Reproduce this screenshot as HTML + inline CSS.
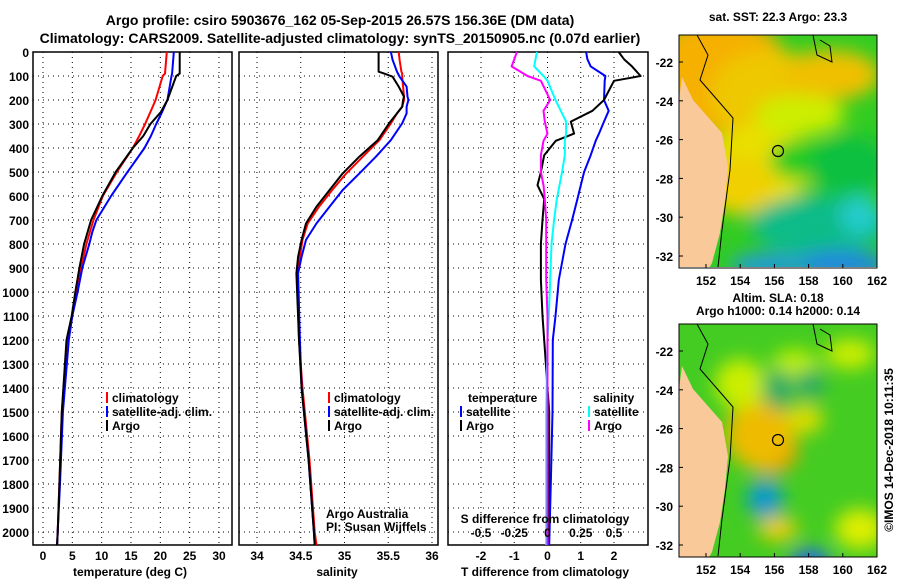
<!DOCTYPE html>
<html><head><meta charset="utf-8"><style>
body{margin:0;background:#fff;}
svg text{font-family:"Liberation Sans",sans-serif;font-weight:bold;}
</style></head><body>
<svg id="c" width="900" height="580" viewBox="0 0 900 580" xmlns="http://www.w3.org/2000/svg">
<defs>
<filter id="bl" x="-50%" y="-50%" width="200%" height="200%"><feGaussianBlur stdDeviation="9"/></filter>
<clipPath id="m1"><rect x="679" y="35" width="198" height="232"/></clipPath>
<clipPath id="m2"><rect x="679" y="324" width="198" height="233"/></clipPath>
</defs>
<text x="340" y="25" text-anchor="middle" font-size="14">Argo profile: csiro 5903676_162 05-Sep-2015 26.57S 156.36E (DM data)</text>
<text x="340" y="43" text-anchor="middle" font-size="14">Climatology: CARS2009. Satellite-adjusted climatology: synTS_20150905.nc (0.07d earlier)</text>
<g id="plots"></g>
<g id="maps"></g>
</svg>
<script>
// ---- data ----
const tDepth=[0,90,100,200,250,300,350,400,500,600,700,750,800,900,1000,1100,1200,1500,1800,2000,2054];
const tArgo=[23.3,23.3,22.7,21.2,20.1,18.3,17.1,15.3,12.4,10.1,8.2,7.6,7.0,6.2,5.5,4.9,4.0,3.2,2.8,2.5,2.4];
const tClim=[21.1,20.8,20.4,19.2,18.3,17.4,16.4,15.3,12.6,10.2,8.6,8.0,7.4,6.5,5.7,5.0,4.2,3.2,2.8,2.5,2.4];
const tSat=[22.3,22.0,21.9,21.2,20.3,19.3,18.4,17.3,14.4,11.6,9.1,8.4,7.9,6.7,5.9,5.0,4.4,3.4,2.9,2.5,2.4];
const sDepth=[0,33,82,89,103,144,186,200,228,256,297,367,436,506,575,644,714,783,853,922,1200,1400,1700,2000,2054];
const sArgo=[35.39,35.39,35.39,35.45,35.55,35.62,35.68,35.67,35.66,35.60,35.51,35.38,35.17,34.98,34.83,34.68,34.56,34.51,34.47,34.45,34.48,34.51,34.59,34.65,34.66];
const sClim=[35.62,35.63,35.65,35.66,35.66,35.67,35.68,35.68,35.66,35.60,35.53,35.40,35.21,35.02,34.86,34.71,34.58,34.52,34.49,34.46,34.48,34.52,34.60,34.66,34.68];
const sSat=[35.53,35.55,35.60,35.61,35.63,35.71,35.72,35.73,35.71,35.71,35.66,35.53,35.36,35.17,34.98,34.83,34.68,34.56,34.51,34.47,34.49,34.51,34.59,34.65,34.66];
const dDepth=[0,30,60,100,120,200,245,290,340,370,430,500,555,613,700,800,950,1100,1200,1500,1800,2054];
const dTArgo=[2.14,2.3,2.54,2.8,2.0,1.7,1.35,0.7,0.8,0.25,-0.1,-0.2,-0.3,-0.1,-0.15,-0.2,-0.2,-0.15,-0.1,0.05,0.05,0.0];
const dTSat=[1.16,1.2,1.3,1.74,1.72,1.7,1.84,1.7,1.55,1.45,1.3,1.1,1.0,0.9,0.74,0.54,0.34,0.24,0.16,0.15,0.1,0.05];
const dSArgo=[-0.23,-0.25,-0.27,-0.15,-0.05,0.02,-0.03,-0.02,0.0,-0.03,-0.05,-0.05,-0.03,-0.02,-0.01,-0.01,-0.01,0.0,0.0,0.0,0.0,0.0];
const dSSat=[-0.08,-0.09,-0.1,-0.03,0.0,0.06,0.1,0.14,0.14,0.13,0.13,0.11,0.09,0.07,0.05,0.03,0.02,0.01,0.0,-0.01,-0.01,-0.01];
const depthTicks=[0,100,200,300,400,500,600,700,800,900,1000,1100,1200,1300,1400,1500,1600,1700,1800,1900,2000];
const tTicks=[0,5,10,15,20,25,30];
const sTicks=[34,34.5,35,35.5,36];
const dTTicks=[-2,-1,0,1,2];
const dSTickLabels=["-0.5","-0.25","0","0.25","0.5"];
const dSTickVals=[-0.5,-0.25,0,0.25,0.5];

const NS="http://www.w3.org/2000/svg";
const P=document.getElementById('plots');
function el(t,a,p){const e=document.createElementNS(NS,t);for(const k in a)e.setAttribute(k,a[k]);(p||P).appendChild(e);return e;}
const Y0=52,Y1=545,DMAX=2054;
const yD=d=>Y0+(d/DMAX)*(Y1-Y0);
function mkX(x0,x1,v0,v1){return v=>x0+(v-v0)/(v1-v0)*(x1-x0);}
const xT=mkX(43,219,0,30), xS=mkX(257,432,34,36), xDT=mkX(481,614,-2,2), xDS=v=>xDT(v*4);
const panels=[{x0:33,x1:232,name:'temperature-panel'},{x0:239,x1:438,name:'salinity-panel'},{x0:448,x1:648,name:'difference-panel'}];

function grid(pn,xs){
  const g=el('g',{});
  
  
  depthTicks.forEach(d=>{if(d>0){const y=yD(d);el('line',{x1:pn.x0,x2:pn.x1,y1:y,y2:y,stroke:'#000','stroke-width':1,'stroke-dasharray':'1,4'},g);}});
  xs.forEach(x=>el('line',{x1:x,x2:x,y1:Y0,y2:Y1,stroke:'#000','stroke-width':1,'stroke-dasharray':'1,4'},g));
  const f=el('rect',{x:pn.x0,y:Y0,width:pn.x1-pn.x0,height:Y1-Y0,fill:'none',stroke:'#000','stroke-width':1.5});
  
  
}
grid(panels[0],tTicks.map(xT));
grid(panels[1],sTicks.map(xS));
grid(panels[2],dTTicks.map(xDT));

function line(depths,vals,xf,color,name,w){
  const pts=depths.map((d,i)=>xf(vals[i]).toFixed(1)+','+yD(d).toFixed(1)).join(' ');
  const e=el('polyline',{points:pts,fill:'none',stroke:color,'stroke-width':w||2,'stroke-linejoin':'round'});
  
  
}
line(tDepth,tClim,xT,'#f00','temp-climatology-line');
line(tDepth,tSat,xT,'#00f','temp-satellite-line');
line(tDepth,tArgo,xT,'#000','temp-argo-line');
line(sDepth,sClim,xS,'#f00','sal-climatology-line');
line(sDepth,sSat,xS,'#00f','sal-satellite-line');
line(sDepth,sArgo,xS,'#000','sal-argo-line');
line(dDepth,dTSat,xDT,'#00f','dT-satellite-line');
line(dDepth,dTArgo,xDT,'#000','dT-argo-line');
line(dDepth,dSSat,xDS,'#0ff','dS-satellite-line');
line(dDepth,dSArgo,xDS,'#f0f','dS-argo-line');

function txt(x,y,s,o){const e=el('text',Object.assign({x:x,y:y,'font-size':12},o||{}));e.textContent=s;return e;}
depthTicks.forEach(d=>{const e=txt(29,yD(d)+5,String(d),{'text-anchor':'end'});
  
  });
tTicks.forEach(v=>{const e=txt(xT(v),560,String(v),{'text-anchor':'middle'});
  
  });
sTicks.forEach(v=>{const e=txt(xS(v),560,String(v),{'text-anchor':'middle'});
  
  });
dTTicks.forEach(v=>{const e=txt(xDT(v),560,String(v),{'text-anchor':'middle'});
  
  });
dSTickVals.forEach((v,i)=>{const e=txt(xDS(v),537,dSTickLabels[i],{'text-anchor':'middle'});
  
  });
let e;
e=txt(130,576,'temperature (deg C)',{'text-anchor':'middle'});
e=txt(337,576,'salinity',{'text-anchor':'middle'});
e=txt(545,576,'T difference from climatology',{'text-anchor':'middle'});
e=txt(545,523,'S difference from climatology',{'text-anchor':'middle'});

function leg(x,y,c,s,name){const g=el('g',{});
  el('rect',{x:x,y:y-10,width:2,height:11,fill:c},g);const t=el('text',{x:x+6,y:y,'font-size':12},g);t.textContent=s;}
leg(106,402,'#f00','climatology','legend-temp-climatology');
leg(106,416,'#00f','satellite-adj. clim.','legend-temp-satellite');
leg(106,430,'#000','Argo','legend-temp-argo');
leg(328,402,'#f00','climatology','legend-sal-climatology');
leg(328,416,'#00f','satellite-adj. clim.','legend-sal-satellite');
leg(328,430,'#000','Argo','legend-sal-argo');
e=txt(468,402,'temperature');
leg(460,416,'#00f','satellite','legend-dT-satellite');
leg(460,430,'#000','Argo','legend-dT-argo');
e=txt(593,402,'salinity');
leg(588,416,'#0ff','satellite','legend-dS-satellite');
leg(588,430,'#f0f','Argo','legend-dS-argo');
e=txt(326,518,'Argo Australia',{'font-weight':'normal'});
e=txt(326,531,'PI: Susan Wijffels',{'font-weight':'normal'});

// ---- maps ----
const M=document.getElementById('maps');
const lats=[-22,-24,-26,-28,-30,-32];
const lons=[152,154,156,158,160,162];
function drawMap(top,clip,base,blobs,name,titles){
  const g=el('g',{'clip-path':'url(#'+clip+')'},M);
  
  
  el('rect',{x:679,y:top,width:198,height:233,fill:base},g);
  const bg=el('g',{filter:'url(#bl)'},g);
  blobs.forEach(b=>el('ellipse',{cx:b[0],cy:top+b[1],rx:b[2],ry:b[3],fill:b[4]},bg));
  const o=top-35;
  const land=[[679,100],[682,77],[693,100],[722,133],[728,167],[725,200],[720,233],[712,263],[708,270],[679,270]].map(p=>p[0]+','+(p[1]+o)).join(' ');
  el('polygon',{points:land,fill:'#f9c99a'},g);
  el('polyline',{points:[[697,35],[708,55],[700,80],[720,103],[733,118],[730,170],[722,230],[718,267]].map(p=>p[0]+','+(p[1]+o)).join(' '),fill:'none',stroke:'#000','stroke-width':1},g);
  el('polyline',{points:[[813,35],[817,55],[832,62],[830,46],[820,40]].map(p=>p[0]+','+(p[1]+o)).join(' '),fill:'none',stroke:'#000','stroke-width':1},g);
  const pos=el('circle',{cx:778,cy:top+116,r:5.5,fill:'none',stroke:'#000','stroke-width':1.2},M);
  
  
  el('rect',{x:679,y:top,width:198,height:233,fill:'none',stroke:'#000','stroke-width':1},M);
  const latY=l=>top+27+(l+22)/(-10)*194;
  lats.forEach(l=>{const t=txt(673,latY(l)+5,String(l),{'text-anchor':'end'},M);
    el('line',{x1:679,x2:683,y1:latY(l),y2:latY(l),stroke:'#000'},M);
    M.appendChild(t);});
  lons.forEach(l=>{const x=706+(l-152)*17.1;const t=txt(x,top+250,String(l),{'text-anchor':'middle'});M.appendChild(t);
    
    el('line',{x1:x,x2:x,y1:top+233,y2:top+229,stroke:'#000'},M);});
  titles.forEach((s,i)=>{const t=txt(778,top-22+i*13+(titles.length==1?8:0),s,{'text-anchor':'middle'});M.appendChild(t);
    });
}
drawMap(35,'m1','#33cc22',[
 [720,40,70,60,'#f5b000'],[770,60,60,45,'#eec800'],[830,40,50,25,'#f0c000'],[760,130,55,40,'#e8e000'],[800,80,45,20,'#ccee00'],
 [740,150,35,30,'#f0d000'],[800,125,30,20,'#22cc22'],[850,130,40,30,'#11c040'],[820,190,70,30,'#11bb88'],[840,230,50,15,'#2288dd'],[770,230,40,12,'#2299dd'],[860,180,20,20,'#22cccc']
],'sst-map',['sat. SST: 22.3 Argo: 23.3']);
drawMap(324,'m2','#44cc22',[
 [770,125,28,25,'#ee9900'],[760,110,35,35,'#eebb00'],[805,95,18,15,'#dddd00'],[740,60,25,25,'#ccee00'],[795,45,25,20,'#bbee00'],
 [778,65,15,20,'#22aa66'],[810,60,15,15,'#22aa66'],[765,175,18,20,'#1199cc'],[810,240,20,15,'#2266ee'],[778,205,20,12,'#eecc00'],[860,205,25,20,'#ddee00'],[850,30,25,15,'#ccee00']
],'sla-map',['Altim. SLA: 0.18','Argo h1000: 0.14 h2000: 0.14']);
const ts=txt(0,0,'\u00A9IMOS 14-Dec-2018 10:11:35',{'text-anchor':'middle','font-weight':'normal','transform':'translate(893,450) rotate(-90)'});M.appendChild(ts);


</script>
</body></html>
